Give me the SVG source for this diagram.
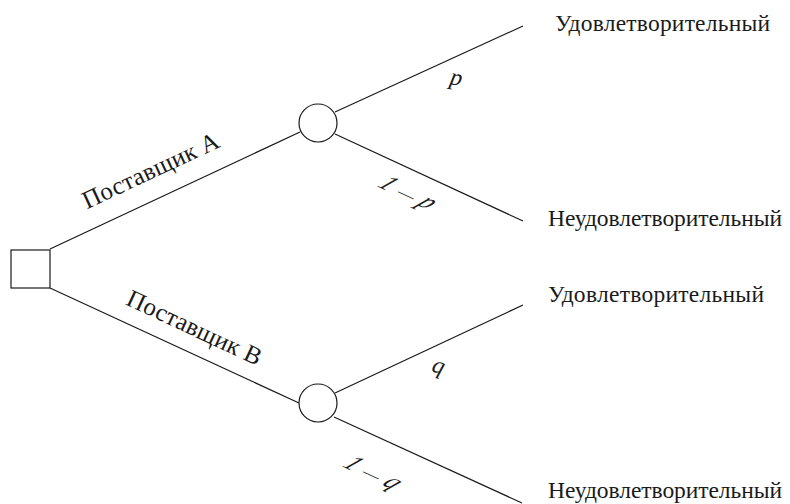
<svg xmlns="http://www.w3.org/2000/svg" width="790" height="504" viewBox="0 0 790 504">
<style>
.ln{stroke:#1a1a1a;stroke-width:1.2;fill:none}
.nd{stroke:#1a1a1a;stroke-width:1.2;fill:#fff}
.t{font-family:"Liberation Serif","Times New Roman",serif;font-size:23.5px;fill:#1a1a1a}
.e{font-family:"Liberation Serif","Times New Roman",serif;font-size:25px;fill:#1a1a1a}
.m{font-family:"Liberation Serif","Times New Roman",serif;font-style:italic;font-size:24px;fill:#1a1a1a}
.d{font-size:17px;font-style:normal}
</style>
<rect width="790" height="504" fill="#fff"/>
<g id="connectors">
<line class="ln" x1="50" y1="249" x2="300" y2="132"/>
<line class="ln" x1="50" y1="288" x2="299" y2="403"/>
<line class="ln" x1="335" y1="112" x2="523" y2="26"/>
<line class="ln" x1="335" y1="134" x2="523" y2="221"/>
<line class="ln" x1="335" y1="393" x2="523" y2="305"/>
<line class="ln" x1="334" y1="417" x2="522" y2="503"/>
</g>
<g id="edge-labels">
<text class="e" text-anchor="middle" textLength="148" transform="translate(154,178) rotate(-25)">Поставщик А</text>
<text class="e" text-anchor="middle" textLength="146" transform="translate(191,335) rotate(25)">Поставщик В</text>
<text class="m" text-anchor="middle" transform="translate(456,80) rotate(12) translate(0,5)">p</text>
<text class="m" text-anchor="middle" transform="translate(408,193) rotate(25) skewX(-28) translate(0,7)">1<tspan class="d" dx="8">—</tspan><tspan dx="7">p</tspan></text>
<text class="m" text-anchor="middle" transform="translate(438,368) rotate(18) translate(0,5)">q</text>
<text class="m" text-anchor="middle" transform="translate(373,473) rotate(25) skewX(-28) translate(0,7)">1<tspan class="d" dx="8">—</tspan><tspan dx="7">q</tspan></text>
</g>
<g id="decision"><rect class="nd" x="11" y="250" width="39" height="38"/></g>
<g id="chanceA"><circle class="nd" cx="318" cy="123" r="19"/></g>
<g id="chanceB"><circle class="nd" cx="318" cy="403" r="19"/></g>
<g id="outA1"><text class="t" x="555" y="31" textLength="215">Удовлетворительный</text></g>
<g id="outA2"><text class="t" x="548" y="226" textLength="234">Неудовлетворительный</text></g>
<g id="outB1"><text class="t" x="548" y="302" textLength="216">Удовлетворительный</text></g>
<g id="outB2"><text class="t" x="548" y="498" textLength="234">Неудовлетворительный</text></g>
</svg>
